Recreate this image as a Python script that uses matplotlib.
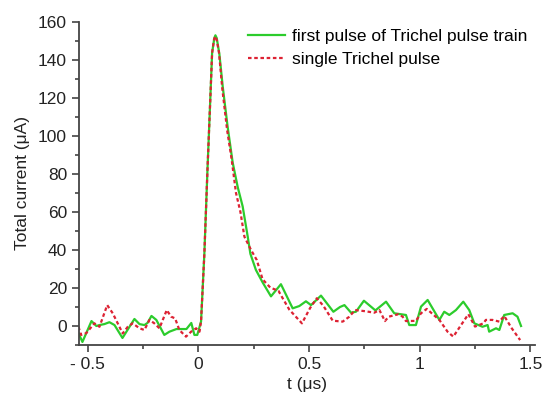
import numpy as np
import matplotlib.pyplot as plt
from matplotlib.ticker import MultipleLocator

plt.rcParams['font.family'] = ['Liberation Sans', 'DejaVu Sans']

# first pulse of Trichel pulse train
t_train = [-0.542, -0.524, -0.483, -0.461, -0.447, -0.425, -0.402, -0.379, -0.343,
           -0.289, -0.266, -0.244, -0.230, -0.212, -0.190, -0.154, -0.131, -0.099,
           -0.054, -0.032, -0.018, -0.005, 0.012, 0.027, 0.041, 0.053, 0.062, 0.072,
           0.077, 0.083, 0.095, 0.110, 0.132, 0.155, 0.178, 0.200, 0.223, 0.235,
           0.260, 0.290, 0.328, 0.373, 0.426, 0.456, 0.486, 0.509, 0.554, 0.610,
           0.640, 0.660, 0.690, 0.712, 0.748, 0.800, 0.848, 0.885, 0.938, 0.953,
           0.983, 1.006, 1.036, 1.089, 1.111, 1.134, 1.164, 1.197, 1.224, 1.247,
           1.284, 1.307, 1.314, 1.345, 1.360, 1.382, 1.420, 1.442, 1.458]
i_train = [-3.7, -8.4, 2.6, 0.0, 0.5, 1.0, 2.0, 0.5, -6.3,
           3.7, 1.0, 0.5, 1.6, 5.3, 3.2, -4.7, -3.0, -1.6,
           -1.6, 1.6, -4.7, -4.7, 2.3, 38, 82, 117, 143.7, 151.5,
           153, 151.5, 143, 126, 105, 86, 73, 63, 47, 38,
           29.5, 23, 15.6, 22, 9.3, 10.5, 13, 11, 16, 7.5,
           10, 11, 7, 7.5, 13.3, 8.2, 12.8, 6.7, 5.8, 0.5,
           0.5, 10.2, 13.7, 3.2, 7.5, 5.8, 8.4, 12.8, 8.4, 1.4,
           -0.4, 0.5, -3.0, -1.2, -2.1, 5.8, 6.7, 4.9, 0.0]

# single Trichel pulse
t_single = [-0.542, -0.530, -0.507, -0.470, -0.447, -0.412, -0.387, -0.342, -0.319,
            -0.297, -0.266, -0.244, -0.221, -0.199, -0.176, -0.143, -0.123, -0.105,
            -0.086, -0.056, -0.033, -0.010, 0.005, 0.012, 0.027, 0.041, 0.053, 0.062,
            0.071, 0.077, 0.083, 0.093, 0.108, 0.130, 0.150, 0.170, 0.190, 0.208,
            0.238, 0.264, 0.290, 0.325, 0.362, 0.381, 0.411, 0.468, 0.505, 0.535,
            0.565, 0.607, 0.652, 0.682, 0.708, 0.753, 0.795, 0.818, 0.843, 0.860,
            0.904, 0.923, 0.938, 0.983, 1.006, 1.032, 1.089, 1.126, 1.152, 1.187,
            1.220, 1.250, 1.288, 1.299, 1.329, 1.360, 1.382, 1.416, 1.454]
i_single = [-0.4, -4.7, -3.8, 1.4, -0.4, 11, 6.7, -3.9, -0.4,
            1.4, -1.2, -2.1, 3.2, 1.4, -1.2, 8.4, 4.9, 4.0,
            -2.1, -5.6, -3.0, -1.2, -3.0, 2.3, 38, 82, 117, 143.7,
            151, 152.5, 150.5, 144, 125, 103, 88, 70, 60, 47,
            40, 34.7, 24.6, 20.2, 18.5, 14.6, 8.6, 1.4, 9.5, 14.6,
            10.6, 2.8, 2.3, 4.9, 8.4, 7.8, 7.0, 8.4, 2.6, 4.9,
            6.2, 4.9, 2.6, 2.7, 6.7, 9.0, 3.2, -3.0, -5.6, 0.5,
            6.2, -0.3, 1.4, 3.2, 3.2, 2.3, 5.3, -1.2, -7.4]

xticks = [-0.5, 0, 0.5, 1, 1.5]
xtick_labels = ['- 0.5', '0', '0.5', '1', '1.5']

fig = plt.figure(figsize=(5.44, 4.0), dpi=100)
ax = fig.add_axes([0.145, 0.1375, 0.838, 0.8075])

ax.plot(t_train, i_train, '-', color='#2ccc2c', lw=1.6,
        label='first pulse of Trichel pulse train')
ax.plot(t_single, i_single, color='#dd2233', lw=1.6, dashes=(1.6, 1.2),
        label='single Trichel pulse')

ax.set_xlim(-0.54, 1.52)
ax.set_ylim(-10, 160)
ax.set_xticks(xticks)
ax.set_xticklabels(xtick_labels)
ax.xaxis.set_minor_locator(MultipleLocator(0.25))
ax.yaxis.set_major_locator(MultipleLocator(20))
ax.yaxis.set_minor_locator(MultipleLocator(10))

for s in ['top', 'right']:
    ax.spines[s].set_visible(False)
for s in ['left', 'bottom']:
    ax.spines[s].set_color('#444444')
    ax.spines[s].set_linewidth(1.3)
ax.tick_params(which='both', direction='out', color='#444444', width=1.2,
               labelsize=12.5, labelcolor='#222222')
ax.tick_params(which='major', length=5)
ax.tick_params(which='minor', length=3)

ax.set_xlabel('t (\u03bcs)', fontsize=12.5, color='#222222', labelpad=4)
ax.set_ylabel('Total current (\u03bcA)', fontsize=12.5, color='#222222', labelpad=6)

ax.legend(loc='upper right', frameon=False, fontsize=12.5, handlelength=2.1,
          handletextpad=0.45, labelspacing=0.45, borderaxespad=0.0,
          bbox_to_anchor=(1.0, 1.0))

plt.savefig('out.png', dpi=100)
